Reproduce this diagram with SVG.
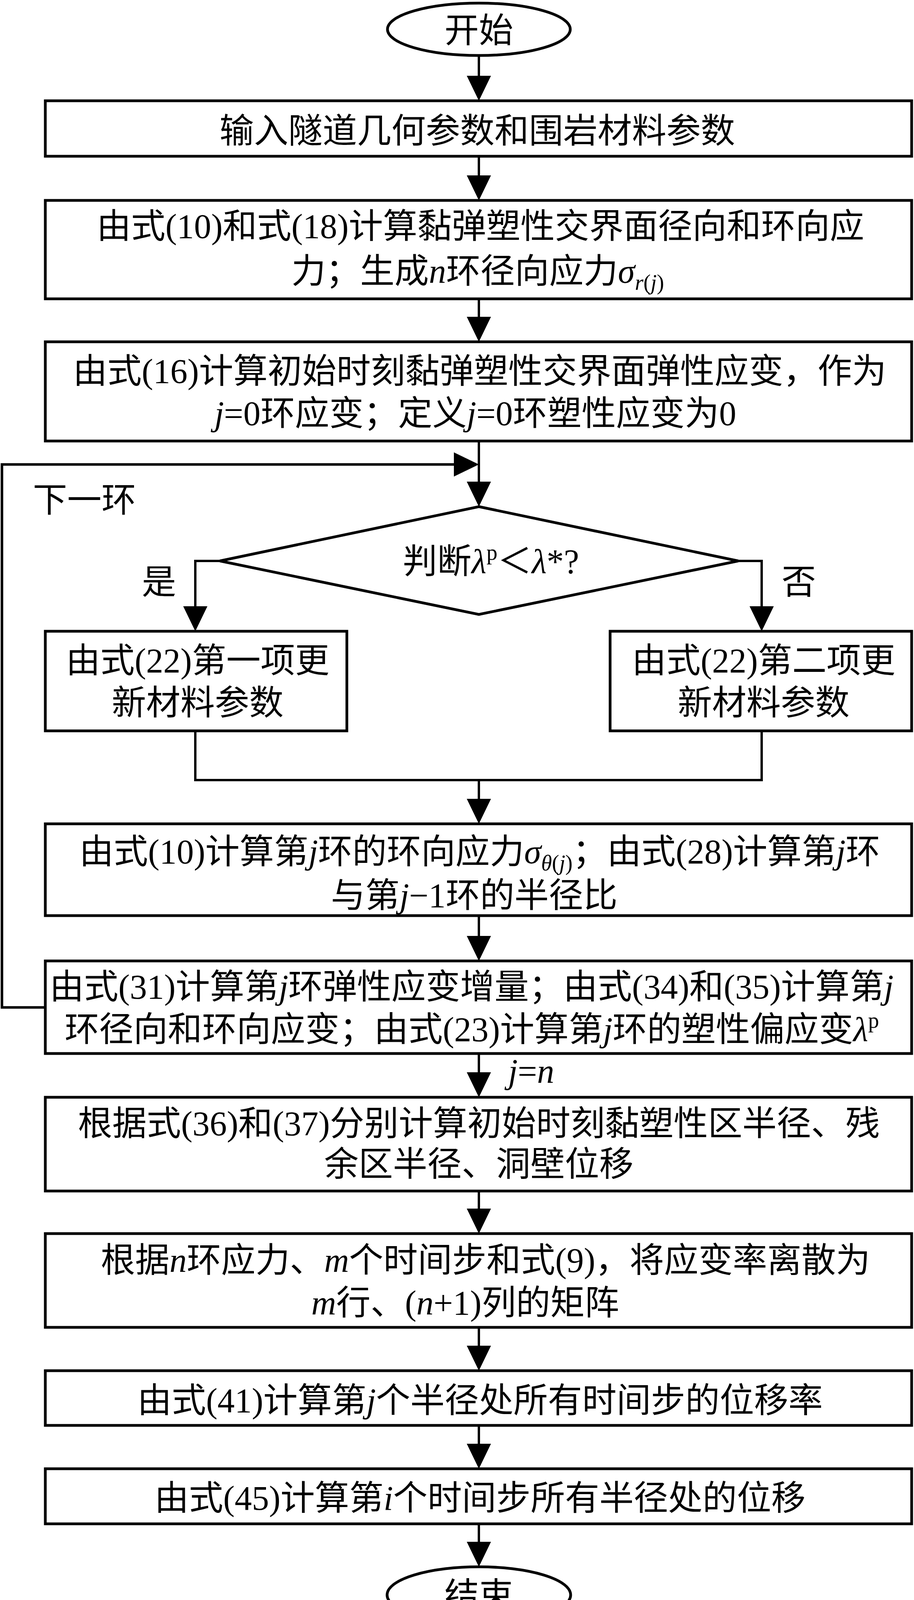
<svg xmlns="http://www.w3.org/2000/svg" width="2340" height="4160" viewBox="0 0 2340 4160">
<style>
.bx{fill:#fff;stroke:#000;stroke-width:7}
.ln{fill:none;stroke:#000;stroke-width:6}
.lp{fill:none;stroke:#000;stroke-width:6.5}
.t{font-family:"Liberation Serif","Noto Sans CJK SC",serif;font-size:88px;fill:#000;text-anchor:middle}
.st{text-anchor:start}
.i{font-style:italic}
.s{font-size:56px}
</style>
<defs>
<marker id="ah" markerUnits="userSpaceOnUse" markerWidth="64" markerHeight="62" viewBox="0 0 64 62" refX="54" refY="31" orient="auto">
<path d="M0,0 L64,31 L0,62 Z" fill="#000"/>
</marker>
</defs>
<rect width="2340" height="4160" fill="#fff"/>
<g id="connectors">
<line class="ln" x1="1226" y1="142" x2="1226" y2="248" marker-end="url(#ah)"/>
<line class="ln" x1="1226" y1="400" x2="1226" y2="503" marker-end="url(#ah)"/>
<line class="ln" x1="1226" y1="765" x2="1226" y2="865" marker-end="url(#ah)"/>
<line class="ln" x1="1226" y1="1129" x2="1226" y2="1287" marker-end="url(#ah)"/>
<polyline class="ln" points="563,1436 500,1436 500,1606" marker-end="url(#ah)"/>
<polyline class="ln" points="1890,1436 1950,1436 1950,1606" marker-end="url(#ah)"/>
<polyline class="ln" points="500,1871 500,1997 1950,1997 1950,1871"/>
<line class="ln" x1="1226" y1="1997" x2="1226" y2="2099" marker-end="url(#ah)"/>
<line class="ln" x1="1226" y1="2344" x2="1226" y2="2450" marker-end="url(#ah)"/>
<line class="ln" x1="1226" y1="2697" x2="1226" y2="2799" marker-end="url(#ah)"/>
<line class="ln" x1="1226" y1="3049" x2="1226" y2="3148" marker-end="url(#ah)"/>
<line class="ln" x1="1226" y1="3398" x2="1226" y2="3499" marker-end="url(#ah)"/>
<line class="ln" x1="1226" y1="3650" x2="1226" y2="3750" marker-end="url(#ah)"/>
<line class="ln" x1="1226" y1="3903" x2="1226" y2="4001" marker-end="url(#ah)"/>
<polyline class="lp" points="116,2579 5,2579 5,1189 1216,1189" marker-end="url(#ah)"/>
<text class="t st" x="84" y="1310">下一环</text>
<text class="t" x="407" y="1520">是</text>
<text class="t" x="2045" y="1520">否</text>
<text class="t st" x="1301" y="2772"><tspan class="i">j</tspan>=<tspan class="i">n</tspan></text>
</g>
<g id="start">
<ellipse class="bx" cx="1226" cy="75" rx="234" ry="67"/>
<text class="t" x="1226" y="108">开始</text>
</g>
<g id="n1">
<rect class="bx" x="116" y="258" width="2218" height="142"/>
<text class="t" x="1222" y="365">输入隧道几何参数和围岩材料参数</text>
</g>
<g id="n2">
<rect class="bx" x="116" y="513" width="2218" height="252"/>
<text class="t" x="1230" y="609">由式(10)和式(18)计算黏弹塑性交界面径向和环向应</text>
<text class="t" x="1223" y="724">力；生成<tspan class="i">n</tspan>环径向应力<tspan class="i">σ</tspan><tspan class="s" dy="18"><tspan class="i">r</tspan>(<tspan class="i">j</tspan>)</tspan></text>
</g>
<g id="n3">
<rect class="bx" x="116" y="875" width="2218" height="254"/>
<text class="t" x="1228" y="980">由式(16)计算初始时刻黏弹塑性交界面弹性应变，作为</text>
<text class="t" x="1217" y="1088"><tspan class="i">j</tspan>=0环应变；定义<tspan class="i">j</tspan>=0环塑性应变为0</text>
</g>
<g id="decision">
<polygon class="bx" points="1226,1297 1890,1436 1226,1573 563,1436"/>
<text class="t" x="1257" y="1467">判断<tspan class="i">λ</tspan><tspan class="s" dy="-34">p</tspan><tspan dy="34">＜</tspan><tspan class="i">λ</tspan>*?</text>
</g>
<g id="nL">
<rect class="bx" x="116" y="1616" width="772" height="255"/>
<text class="t" x="506" y="1721">由式(22)第一项更</text>
<text class="t" x="506" y="1829">新材料参数</text>
</g>
<g id="nR">
<rect class="bx" x="1562" y="1616" width="772" height="255"/>
<text class="t" x="1955" y="1721">由式(22)第二项更</text>
<text class="t" x="1955" y="1829">新材料参数</text>
</g>
<g id="n5">
<rect class="bx" x="116" y="2109" width="2218" height="235"/>
<text class="t" x="1228" y="2210">由式(10)计算第<tspan class="i">j</tspan>环的环向应力<tspan class="i">σ</tspan><tspan class="s" dy="18"><tspan class="i">θ</tspan>(<tspan class="i">j</tspan>)</tspan><tspan dy="-18">；由式(28)计算第</tspan><tspan class="i">j</tspan>环</text>
<text class="t" x="1214" y="2322">与第<tspan class="i">j</tspan>−1环的半径比</text>
</g>
<g id="n6">
<rect class="bx" x="116" y="2460" width="2218" height="237"/>
<text class="t st" x="127" y="2556">由式(31)计算第<tspan class="i">j</tspan>环弹性应变增量；由式(34)和(35)计算第<tspan class="i">j</tspan></text>
<text class="t" x="1208" y="2665">环径向和环向应变；由式(23)计算第<tspan class="i">j</tspan>环的塑性偏应变<tspan class="i">λ</tspan><tspan class="s" dy="-34">p</tspan></text>
</g>
<g id="n7">
<rect class="bx" x="116" y="2809" width="2218" height="240"/>
<text class="t" x="1226" y="2906">根据式(36)和(37)分别计算初始时刻黏塑性区半径、残</text>
<text class="t" x="1226" y="3010">余区半径、洞壁位移</text>
</g>
<g id="n8">
<rect class="bx" x="116" y="3158" width="2218" height="240"/>
<text class="t" x="1243" y="3256">根据<tspan class="i">n</tspan>环应力、<tspan class="i">m</tspan>个时间步和式(9)，将应变率离散为</text>
<text class="t" x="1191" y="3365"><tspan class="i">m</tspan>行、(<tspan class="i">n</tspan>+1)列的矩阵</text>
</g>
<g id="n9">
<rect class="bx" x="116" y="3509" width="2218" height="140"/>
<text class="t" x="1229" y="3615">由式(41)计算第<tspan class="i">j</tspan>个半径处所有时间步的位移率</text>
</g>
<g id="n10">
<rect class="bx" x="116" y="3760" width="2218" height="141"/>
<text class="t" x="1229" y="3865">由式(45)计算第<tspan class="i">i</tspan>个时间步所有半径处的位移</text>
</g>
<g id="end">
<ellipse class="bx" cx="1226" cy="4083" rx="235" ry="72"/>
<text class="t" x="1226" y="4114">结束</text>
</g>
</svg>
